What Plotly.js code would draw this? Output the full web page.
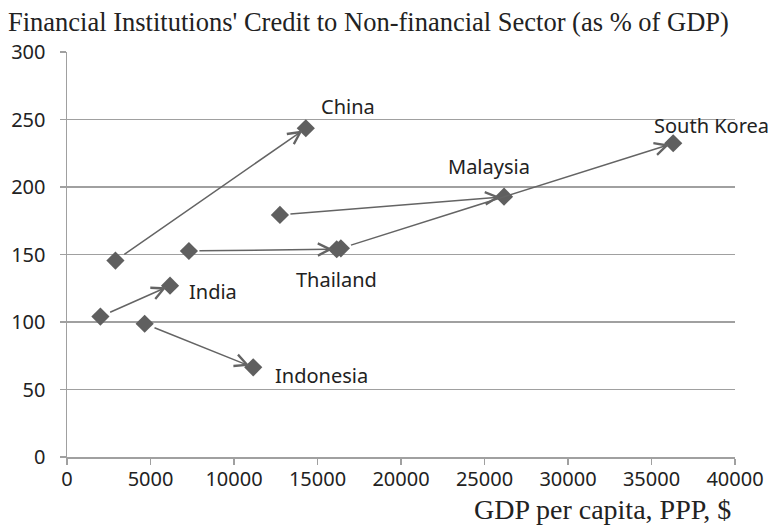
<!DOCTYPE html>
<html>
<head>
<meta charset="utf-8">
<script src="https://cdn.plot.ly/plotly-3.0.1.min.js"></script>
<style>html,body{margin:0;padding:0;background:#fff;}#chart{width:773px;height:532px;}</style>
</head>
<body>
<div id="chart"></div>
<script>
// Data
const countries = ["China", "India", "Indonesia", "Thailand", "Malaysia", "South Korea"];
const gdpStart = [2900, 2000, 4650, 7300, 12750, 16400];
const creditStart = [145.5, 104, 98.7, 152.6, 179.3, 154.6];
const gdpEnd = [14300, 6170, 11150, 16150, 26170, 36300];
const creditEnd = [243.5, 126.9, 66.4, 153.9, 192.8, 232.4];
const yTicks = [0, 50, 100, 150, 200, 250, 300];
const xTicks = [0, 5000, 10000, 15000, 20000, 25000, 30000, 35000, 40000];

// label placement (pixel offsets from end point) — style only
const labelStyle = {
  "China":       {xanchor: "left",   xshift: 13,  yshift: 22},
  "India":       {xanchor: "left",   xshift: 17,  yshift: -6},
  "Indonesia":   {xanchor: "left",   xshift: 20,  yshift: -8},
  "Thailand":    {xanchor: "center", xshift: 0,   yshift: -30},
  "Malaysia":    {xanchor: "center", xshift: -15, yshift: 30},
  "South Korea": {xanchor: "left",   xshift: -21, yshift: 18}
};

const markerStyle = {symbol: "diamond", size: 14, color: "#5f5f5f", line: {width: 0}};

const traces = [
  {x: gdpStart, y: creditStart, mode: "markers", type: "scatter", marker: markerStyle, hoverinfo: "skip", showlegend: false},
  {x: gdpEnd, y: creditEnd, mode: "markers", type: "scatter", marker: markerStyle, hoverinfo: "skip", showlegend: false}
];

const annotations = [];
countries.forEach((c, i) => {
  annotations.push({
    x: gdpEnd[i], y: creditEnd[i], xref: "x", yref: "y",
    ax: gdpStart[i], ay: creditStart[i], axref: "x", ayref: "y",
    text: "", showarrow: true, arrowhead: 5, arrowsize: 1.6, arrowwidth: 1.5,
    arrowcolor: "#646464", standoff: 4, startstandoff: 9
  });
  const s = labelStyle[c];
  annotations.push({
    x: gdpEnd[i], y: creditEnd[i], xref: "x", yref: "y",
    text: c, showarrow: false, xanchor: s.xanchor, yanchor: "middle",
    xshift: s.xshift, yshift: s.yshift,
    font: {family: "Noto Sans, Open Sans, sans-serif", size: 20, color: "#222222"}
  });
});

annotations.push({
  text: "GDP per capita, PPP, $", xref: "paper", yref: "paper",
  x: 1, y: 0, xanchor: "right", yanchor: "middle", yshift: -52, xshift: -2,
  showarrow: false,
  font: {family: "Liberation Serif, Times New Roman, serif", size: 28, color: "#222222"}
});

const layout = {
  width: 773, height: 532,
  margin: {l: 67, r: 38, t: 52, b: 75},
  paper_bgcolor: "#ffffff", plot_bgcolor: "#ffffff",
  showlegend: false,
  title: {
    text: "Financial Institutions' Credit to Non-financial Sector (as % of GDP)",
    x: 8 / 773, xref: "container", xanchor: "left",
    y: 1 - 22 / 532, yref: "container", yanchor: "middle",
    font: {family: "Liberation Serif, Times New Roman, serif", size: 26.5, color: "#222222"}
  },
  xaxis: {
    range: [0, 40000], tickvals: xTicks, ticktext: xTicks.map(String),
    showgrid: false, zeroline: false,
    showline: true, linecolor: "#a0a0a0", linewidth: 1.5,
    ticks: "outside", ticklen: 6, tickcolor: "#a0a0a0", tickwidth: 1.5,
    tickfont: {family: "Noto Sans, Open Sans, sans-serif", size: 20, color: "#222222"},
    ticklabelstandoff: -3, fixedrange: true
  },
  yaxis: {
    range: [0, 300], tickvals: yTicks, ticktext: yTicks.map(String),
    showgrid: true, gridcolor: "#a0a0a0", gridwidth: 1.5,
    zeroline: false,
    showline: true, linecolor: "#a0a0a0", linewidth: 1.5,
    ticks: "outside", ticklen: 6, tickcolor: "#a0a0a0", tickwidth: 1.5,
    tickfont: {family: "Noto Sans, Open Sans, sans-serif", size: 20, color: "#222222"},
    ticklabelstandoff: 10, fixedrange: true
  },
  annotations: annotations
};

Plotly.newPlot("chart", traces, layout, {staticPlot: true, displayModeBar: false});
</script>
</body>
</html>
